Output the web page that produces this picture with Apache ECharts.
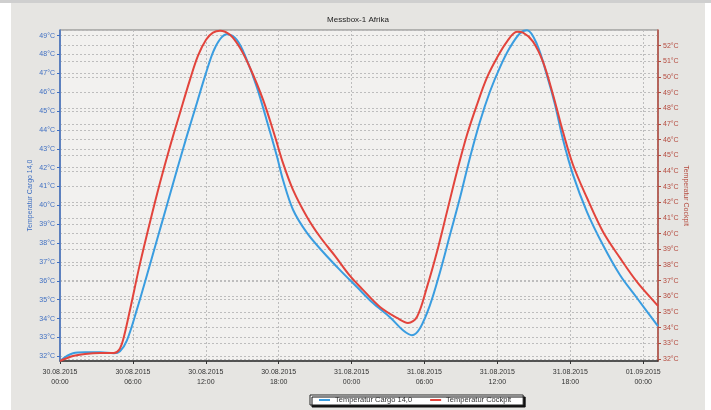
<!DOCTYPE html>
<html><head><meta charset="utf-8">
<script src="https://cdn.jsdelivr.net/npm/echarts@6/dist/echarts.min.js"></script>
<style>
html,body{margin:0;padding:0;background:#fff;width:711px;height:410px;overflow:hidden}
#top{position:absolute;left:0;top:0;width:711px;height:3px;background:#cfcfcf}
#c{position:absolute;left:11px;top:3px;width:694px;height:407px;background:#e6e5e2}
</style></head><body><div id="top"></div><div id="c"></div>
<script>
const chartTitle = 'Messbox-1 Afrika';
const seriesNames = ['Temperatur Cargo 14,0', 'Temperatur Cockpit'];
const xTickDates = ['30.08.2015','30.08.2015','30.08.2015','30.08.2015','31.08.2015','31.08.2015','31.08.2015','31.08.2015','01.09.2015'];
const xTickTimes = ['00:00','06:00','12:00','18:00','00:00','06:00','12:00','18:00','00:00'];
// hours since 30.08.2015 00:00
const cargoHours = [0,1.07,2.06,3.29,4.44,4.94,5.51,6.34,7.16,7.98,8.81,9.63,10.45,11.28,11.93,12.59,13.17,13.74,14.57,15.39,16.21,17.04,17.86,18.35,19.18,20.33,21.65,23.05,24.44,25.76,27.16,28.23,28.97,29.63,30.45,31.28,32.1,32.92,33.74,34.57,35.39,36.21,37.04,37.86,38.44,39.26,40.08,40.74,41.4,42.22,43.37,44.69,46.09,47.49,48.97,49.22];
const cargoTemps = [31.75,32.16,32.21,32.21,32.16,32.27,32.85,34.5,36.31,38.17,40.03,41.89,43.7,45.46,46.84,48.12,48.81,49.07,48.76,47.69,46.26,44.45,42.59,41.36,39.77,38.54,37.53,36.57,35.67,34.82,34.07,33.38,33.12,33.49,34.71,36.47,38.44,40.4,42.53,44.45,46.04,47.32,48.38,49.13,49.29,48.54,46.89,45.35,43.49,41.63,39.66,37.9,36.31,35.09,33.81,33.6];
const cockpitHours = [0,1.07,2.06,3.29,4.44,4.86,5.19,5.76,6.58,7.41,8.23,9.05,9.88,10.7,11.36,12.02,12.59,13.17,13.99,14.81,15.64,16.71,17.7,18.35,19.18,20.33,21.4,22.63,23.87,24.94,26.34,27.74,28.64,29.38,30.21,31.03,31.85,32.67,33.5,34.32,35.14,35.97,36.79,37.61,38.11,38.93,39.75,40.58,41.4,42.22,43.37,44.69,46.09,47.49,49.14,49.22];
const cockpitTemps = [31.87,32.19,32.32,32.38,32.38,32.58,33.21,35.13,38.07,40.75,43.25,45.55,47.72,49.83,51.36,52.38,52.83,52.96,52.7,51.87,50.59,48.55,46.19,44.52,42.8,41.07,39.8,38.58,37.3,36.41,35.32,34.62,34.3,34.68,36.6,38.84,41.39,43.95,46.31,48.23,49.96,51.23,52.26,52.89,52.83,52.26,50.98,48.87,46.5,44.4,42.29,40.12,38.45,36.92,35.45,35.39];

const FONT = '"Liberation Sans", Arial, sans-serif';
const BLUE = '#3a9de0', RED = '#e2443c';
const LBLUE = '#3f6fc2', LRED = '#b44a3e';
const grid = {type:[2,2], color:'#bdbdbd', width:1};

const chart = echarts.init(document.getElementById('c'), null, {renderer:'canvas'});
chart.setOption({
  backgroundColor: '#e6e5e2',
  animation: false,
  title: {text: chartTitle, left: 'center', top: 8,
    textStyle: {fontFamily: FONT, fontSize: 8, fontWeight: 'normal', color: '#222'}},
  legend: {
    data: seriesNames, left: 299, top: 392,
    padding: [1, 12, 1, 9], itemGap: 18, itemWidth: 11, itemHeight: 2, icon: 'rect',
    backgroundColor: '#fff', borderColor: '#222', borderWidth: 1,
    shadowColor: '#111', shadowBlur: 0, shadowOffsetX: 2, shadowOffsetY: 2,
    textStyle: {fontFamily: FONT, fontSize: 7.5, color: '#333'}
  },
  grid: {left: 49, right: 47, top: 27, bottom: 49, show: true,
    backgroundColor: '#f2f1ef', borderColor: '#7d7d7d', borderWidth: 1},
  xAxis: {
    type: 'value', min: 0, max: 49.22, interval: 6,
    axisLine: {show: true, lineStyle: {color: '#333', width: 1.5}},
    axisTick: {show: true, length: 3, lineStyle: {color: '#333'}},
    axisLabel: {fontFamily: FONT, fontSize: 7, color: '#333', lineHeight: 10, margin: 6,
      showMaxLabel: false,
      formatter: v => { const i = Math.round(v / 6); if (Math.abs(v - i * 6) > 0.01 || i >= xTickDates.length) return ''; return xTickDates[i] + '\n' + xTickTimes[i]; }},
    splitLine: {show: true, lineStyle: grid}
  },
  yAxis: [{
    type: 'value', position: 'left', min: 31.75, max: 49.3, splitNumber: 17,
    name: seriesNames[0], nameLocation: 'middle', nameGap: 26, nameMoveOverlap: false,
    nameTextStyle: {fontFamily: FONT, fontSize: 7, color: LBLUE},
    axisLine: {show: true, lineStyle: {color: LBLUE, width: 1.5}},
    axisTick: {show: true, length: 3, lineStyle: {color: LBLUE}},
    axisLabel: {fontFamily: FONT, fontSize: 7, color: LBLUE, margin: 5,
      showMinLabel: false, showMaxLabel: false, formatter: v => v + '°C'},
    splitLine: {show: true, lineStyle: grid}
  }, {
    type: 'value', position: 'right', min: 31.87, max: 53, splitNumber: 21,
    name: seriesNames[1], nameLocation: 'middle', nameGap: 24, nameRotate: -90, nameMoveOverlap: false,
    nameTextStyle: {fontFamily: FONT, fontSize: 7, color: LRED},
    axisLine: {show: true, lineStyle: {color: LRED, width: 1.5}},
    axisTick: {show: true, length: 3, lineStyle: {color: LRED}},
    axisLabel: {fontFamily: FONT, fontSize: 7, color: LRED, margin: 5,
      showMinLabel: false, showMaxLabel: false, formatter: v => v + '°C'},
    splitLine: {show: true, lineStyle: grid}
  }],
  series: [{
    name: seriesNames[0], type: 'line', yAxisIndex: 0, smooth: 0.35, showSymbol: false,
    lineStyle: {color: BLUE, width: 2}, itemStyle: {color: BLUE},
    data: cargoHours.map((h, i) => [h, cargoTemps[i]])
  }, {
    name: seriesNames[1], type: 'line', yAxisIndex: 1, smooth: 0.35, showSymbol: false,
    lineStyle: {color: RED, width: 2}, itemStyle: {color: RED},
    data: cockpitHours.map((h, i) => [h, cockpitTemps[i]])
  }]
});
</script></body></html>
